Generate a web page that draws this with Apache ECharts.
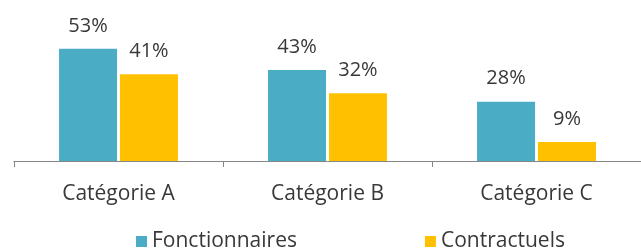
<!DOCTYPE html>
<html>
<head>
<meta charset="utf-8">
<script src="https://cdn.jsdelivr.net/npm/echarts@6/dist/echarts.min.js"></script>
<style>
  html, body { margin: 0; padding: 0; background: #fff; }
  #chart { width: 641px; height: 249px; }
</style>
</head>
<body>
<div id="chart"></div>
<script>
// categories and values
const categories = ['Catégorie A', 'Catégorie B', 'Catégorie C'];
const fonctionnaires = [53, 43, 28];
const contractuels = [41, 32, 9];

const textColor = '#383838';
const font = 'Open Sans';

const chart = echarts.init(document.getElementById('chart'));

const labelStyle = {
  show: true,
  position: 'top',
  distance: 13,
  color: textColor,
  fontFamily: font,
  fontSize: 20,
  formatter: p => p.value + '%'
};

const option = {
  backgroundColor: '#fff',
  animation: false,
  grid: { left: 14, right: -2, top: 34, bottom: 88 },
  legend: {
    left: 131,
    top: 226,
    itemWidth: 11,
    itemHeight: 11,
    itemGap: 128,
    icon: 'rect',
    textStyle: { color: textColor, fontFamily: font, fontSize: 21 },
    data: ['Fonctionnaires', 'Contractuels']
  },
  xAxis: {
    type: 'category',
    data: categories,
    axisLine: { lineStyle: { color: '#868686', width: 1 } },
    axisTick: { show: true, length: 6, lineStyle: { color: '#868686' } },
    axisLabel: { color: textColor, fontFamily: font, fontSize: 21, margin: 23 }
  },
  yAxis: {
    type: 'value',
    min: 0,
    max: 60,
    show: false,
    splitLine: { show: false }
  },
  series: [
    {
      name: 'Fonctionnaires',
      type: 'bar',
      data: fonctionnaires,
      barWidth: 58,
      barGap: '5%',
      itemStyle: { color: '#4BACC6' },
      label: labelStyle
    },
    {
      name: 'Contractuels',
      type: 'bar',
      data: contractuels,
      barWidth: 58,
      itemStyle: { color: '#FFC000' },
      label: labelStyle
    }
  ]
};

chart.setOption(option);
</script>
</body>
</html>
